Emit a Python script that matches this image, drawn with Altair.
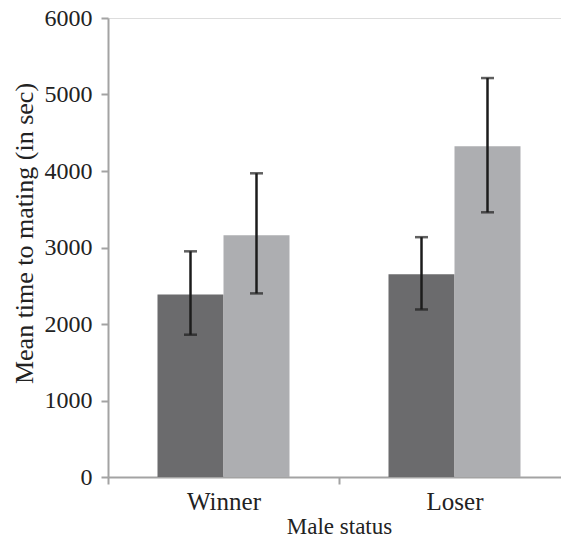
import altair as alt
import pandas as pd

groups = ["Winner", "Winner", "Loser", "Loser"]
series = ["Condition 1", "Condition 2", "Condition 1", "Condition 2"]
means = [2385, 3160, 2650, 4325]
lower = [1860, 2400, 2190, 3460]
upper = [2950, 3970, 3135, 5215]

group_order = ["Winner", "Loser"]
series_order = ["Condition 1", "Condition 2"]
bar_colors = ["#6b6b6d", "#adaeb1"]
y_ticks = [0, 1000, 2000, 3000, 4000, 5000, 6000]

df = pd.DataFrame({"group": groups, "series": series, "mean": means,
                   "lower": lower, "upper": upper})

FONT = "Liberation Serif, Times New Roman, serif"
AX = "#a3a3a3"

x_enc = alt.X("group:N", sort=group_order,
              scale=alt.Scale(paddingInner=0, paddingOuter=0, range=[0, 462]),
              axis=alt.Axis(title="Male status", tickBand="extent", labelAngle=0,
                            tickSize=7, tickWidth=2, tickColor=AX,
                            domainColor=AX, domainWidth=2,
                            labelFont=FONT, labelFontSize=25, labelColor="#222",
                            labelPadding=5, titleFont=FONT, titleFontSize=23,
                            titleFontWeight="normal", titleColor="#222", titlePadding=1))
xoff = alt.XOffset("series:N", sort=series_order,
                   scale=alt.Scale(paddingOuter=0.75, paddingInner=0))

y_scale = alt.Scale(domain=[0, 6000], nice=False)

bars = alt.Chart(df).mark_bar().encode(
    x=x_enc, xOffset=xoff,
    y=alt.Y("mean:Q", scale=y_scale,
            axis=alt.Axis(title="Mean time to mating (in sec)", values=y_ticks, grid=False,
                          format="d",
                          tickSize=7, tickWidth=2, tickColor=AX,
                          domainColor=AX, domainWidth=2,
                          labelFont=FONT, labelFontSize=24, labelColor="#222",
                          labelPadding=9, titleFont=FONT, titleFontSize=26,
                          titleY=215,
                          titleFontWeight="normal", titleColor="#222", titlePadding=7)),
    color=alt.Color("series:N", sort=series_order,
                    scale=alt.Scale(domain=series_order, range=bar_colors), legend=None),
)

rules = alt.Chart(df).mark_rule(color="#1c1c1c", strokeWidth=2.5).encode(
    x=alt.X("group:N", sort=group_order), xOffset=xoff,
    y=alt.Y("lower:Q", scale=y_scale), y2="upper:Q")

cap_hi = alt.Chart(df).mark_tick(color="#1c1c1c", orient="horizontal", size=13, thickness=2.5).encode(
    x=alt.X("group:N", sort=group_order), xOffset=xoff,
    y=alt.Y("upper:Q", scale=y_scale))
cap_lo = alt.Chart(df).mark_tick(color="#1c1c1c", orient="horizontal", size=13, thickness=2.5).encode(
    x=alt.X("group:N", sort=group_order), xOffset=xoff,
    y=alt.Y("lower:Q", scale=y_scale))

chart = alt.layer(bars, rules, cap_hi, cap_lo).properties(
    width=453, height=459,
    autosize=alt.AutoSizeParams(type="none"),
    padding={"left": 100, "top": 10, "right": 0, "bottom": 60},
).configure_view(stroke=None).configure(background="white")

chart.save("out.html", embed_options={"renderer": "svg", "actions": False})
